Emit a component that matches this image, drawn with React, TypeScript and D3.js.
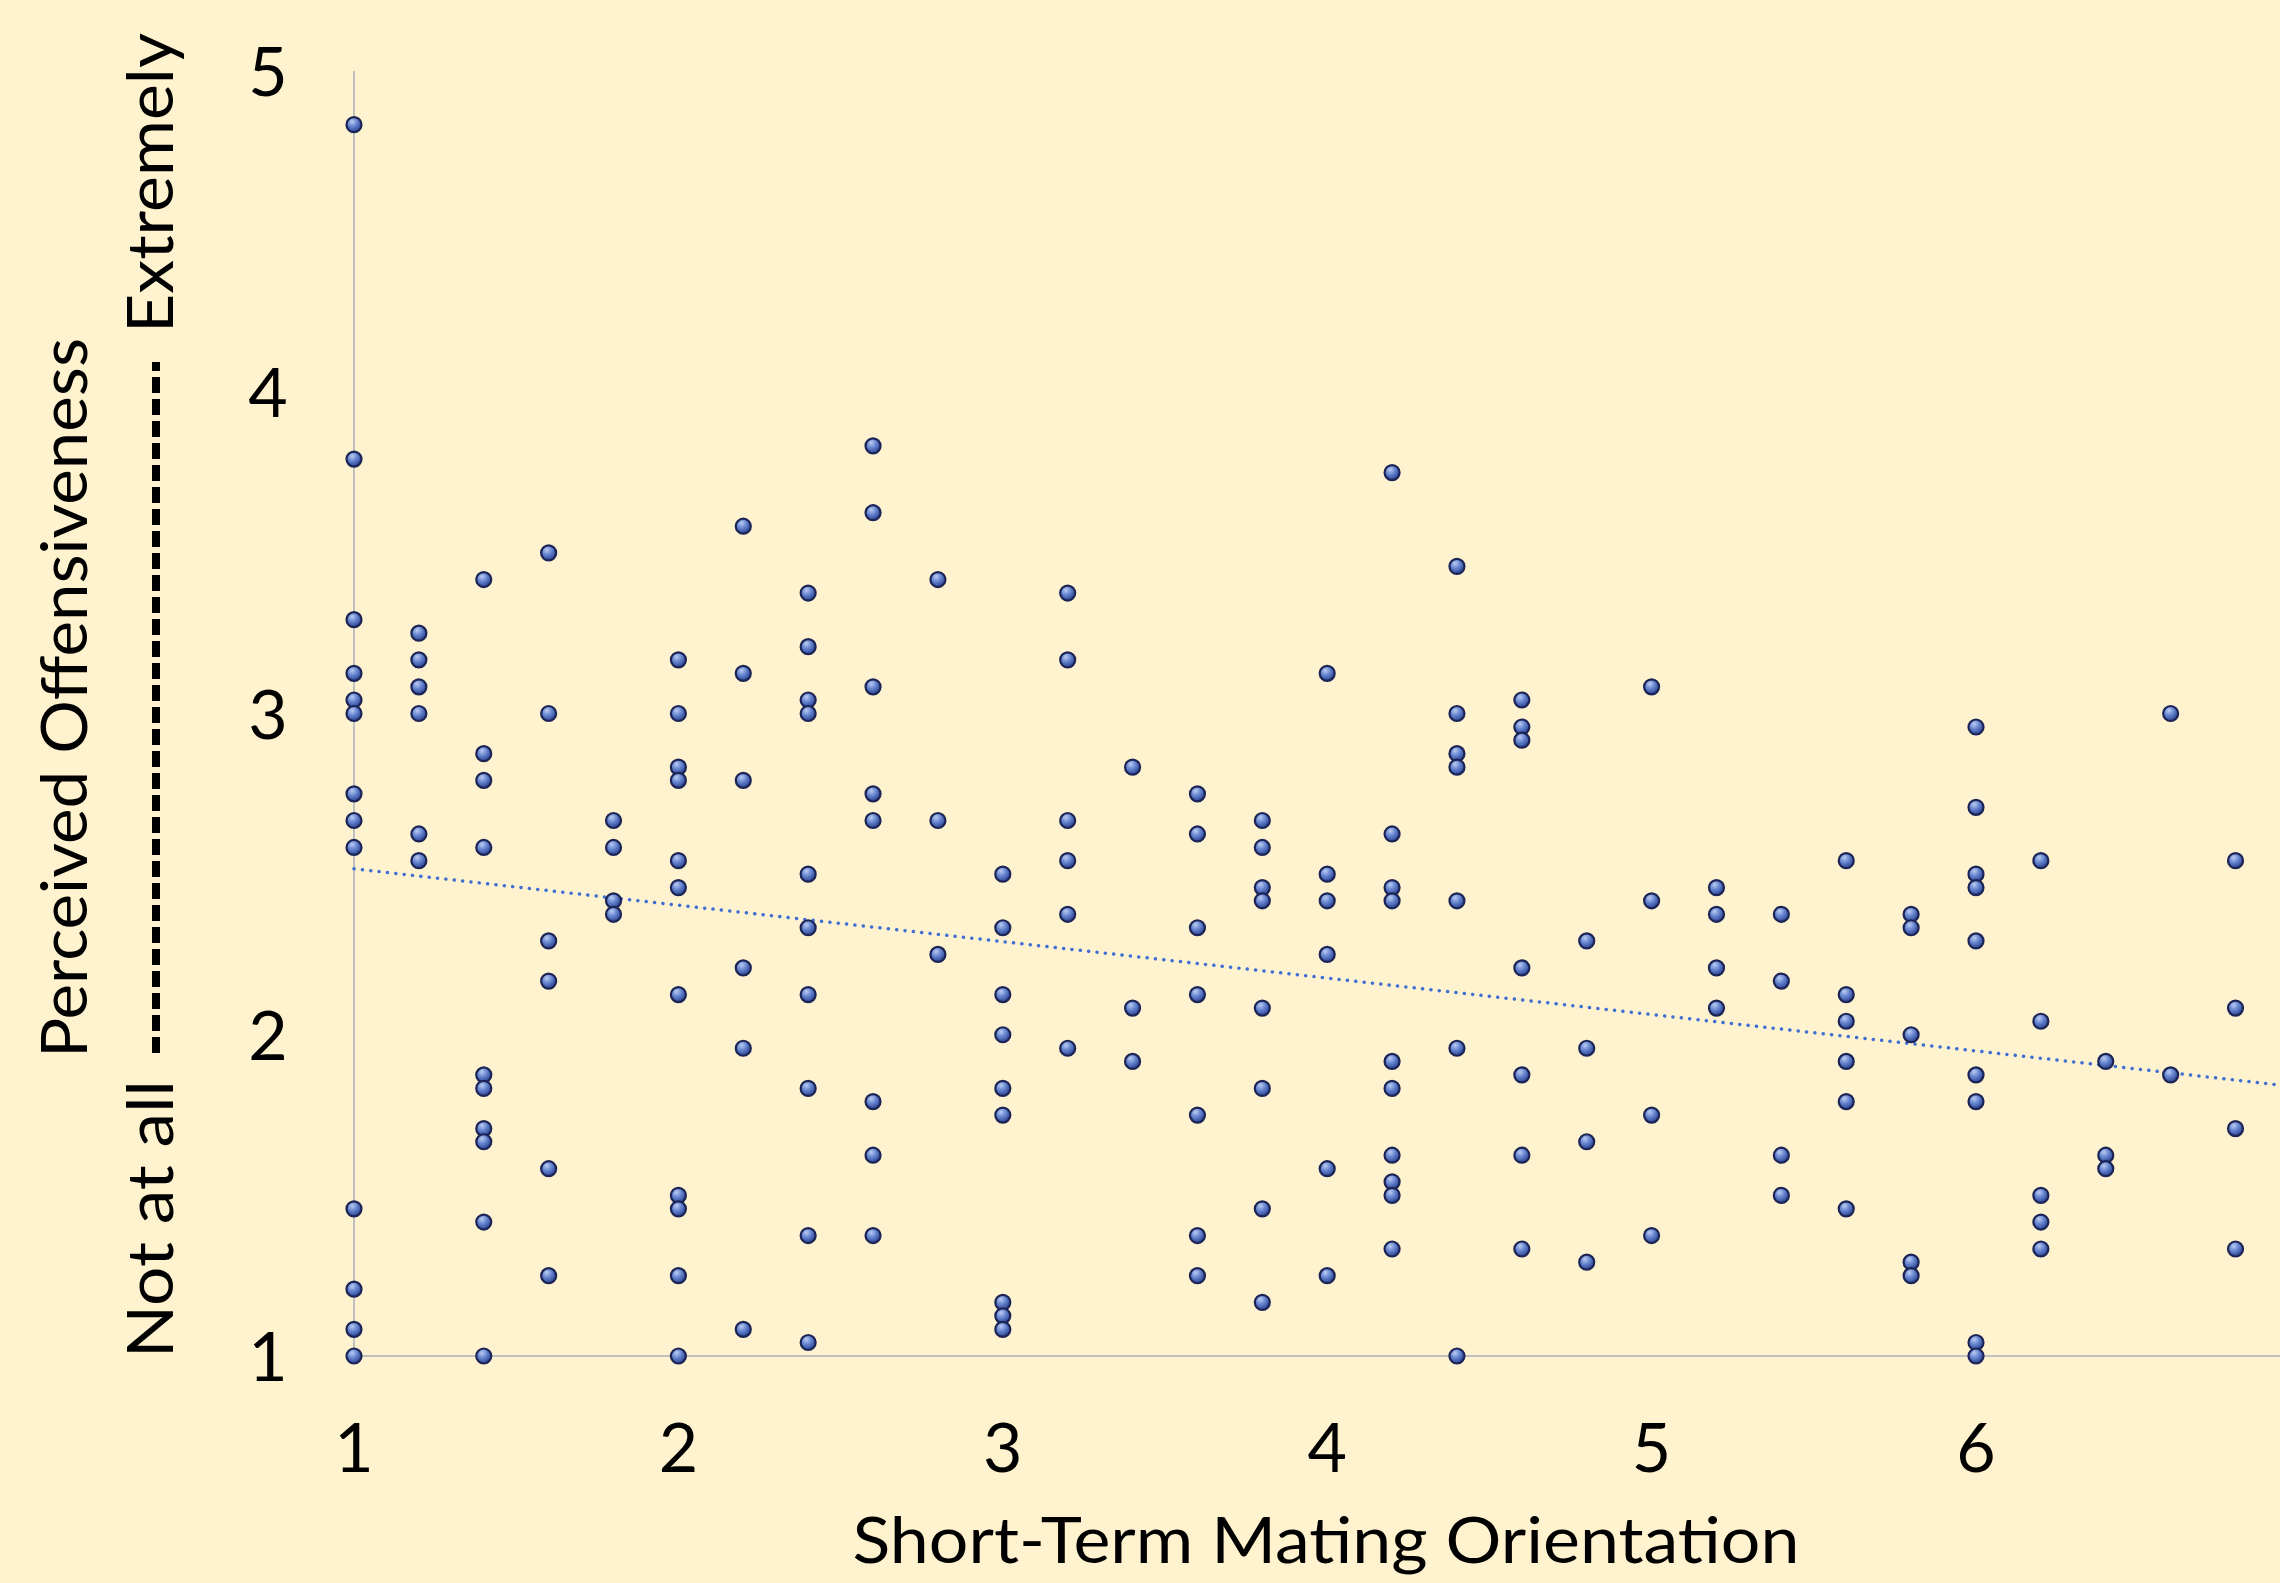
import React from 'react';
import * as d3 from 'd3';

// Short-term mating orientation (x) — each column of responses
const columnX = [1, 1.2, 1.4, 1.6, 1.8, 2, 2.2, 2.4, 2.6, 2.8, 3, 3.2, 3.4, 3.6, 3.8, 4, 4.2, 4.4, 4.6, 4.8, 5, 5.2, 5.4, 5.6, 5.8, 6, 6.2, 6.4, 6.6, 6.8];

// Perceived offensiveness (y) for each column above
const columnY = [
  [4.833, 3.792, 3.292, 3.125, 3.042, 3.0, 2.75, 2.667, 2.583, 1.458, 1.208, 1.083, 1.0],
  [3.25, 3.167, 3.083, 3.0, 2.625, 2.542],
  [3.417, 2.875, 2.792, 2.583, 1.875, 1.833, 1.708, 1.667, 1.417, 1.0],
  [3.5, 3.0, 2.292, 2.167, 1.583, 1.25],
  [2.667, 2.583, 2.417, 2.375],
  [3.167, 3.0, 2.833, 2.792, 2.542, 2.458, 2.125, 1.5, 1.458, 1.25, 1.0],
  [3.583, 3.125, 2.792, 2.208, 1.958, 1.083],
  [3.375, 3.208, 3.042, 3.0, 2.5, 2.333, 2.125, 1.833, 1.375, 1.042],
  [3.833, 3.625, 3.083, 2.75, 2.667, 1.792, 1.625, 1.375],
  [3.417, 2.667, 2.25],
  [2.5, 2.333, 2.125, 2.0, 1.833, 1.75, 1.167, 1.125, 1.083],
  [3.375, 3.167, 2.667, 2.542, 2.375, 1.958],
  [2.833, 2.083, 1.917],
  [2.75, 2.625, 2.333, 2.125, 1.75, 1.375, 1.25],
  [2.667, 2.583, 2.458, 2.417, 2.083, 1.833, 1.458, 1.167],
  [3.125, 2.5, 2.417, 2.25, 1.583, 1.25],
  [3.75, 2.625, 2.458, 2.417, 1.917, 1.833, 1.625, 1.542, 1.5, 1.333],
  [3.458, 3.0, 2.875, 2.833, 2.417, 1.958, 1.0],
  [3.042, 2.958, 2.917, 2.208, 1.875, 1.625, 1.333],
  [2.292, 1.958, 1.667, 1.292],
  [3.083, 2.417, 1.75, 1.375],
  [2.458, 2.375, 2.208, 2.083],
  [2.375, 2.167, 1.625, 1.5],
  [2.542, 2.125, 2.042, 1.917, 1.792, 1.458],
  [2.375, 2.333, 2.0, 1.292, 1.25],
  [2.958, 2.708, 2.5, 2.458, 2.292, 1.875, 1.792, 1.042, 1.0],
  [2.542, 2.042, 1.5, 1.417, 1.333],
  [1.917, 1.625, 1.583],
  [3.0, 1.875],
  [2.542, 2.083, 1.708, 1.333],
];

const xTicks = [1, 2, 3, 4, 5, 6];
const yTicks = [1, 2, 3, 4, 5];

// linear trend line
const trendIntercept = 2.63;
const trendSlope = -0.1134;

const App = () => {
  const width = 2280;
  const height = 1583;
  const font = 'Lato, "Open Sans", sans-serif';

  const x = d3.scaleLinear().domain([1, 7]).range([354, 2300.4]);
  const y = d3.scaleLinear().domain([1, 5]).range([1356, 71]);

  const points = columnX.flatMap((cx, i) => columnY[i].map((v) => ({ x: cx, y: v })));

  const trend = d3
    .line<number>()
    .x((d) => x(d))
    .y((d) => y(trendIntercept + trendSlope * d))([1, 7]);

  return (
    <div style={{ position: 'absolute', left: 0, top: 0 }}>
      <svg width={width} height={height} style={{ display: 'block' }}>
        <defs>
          <radialGradient id="ball" cx="38%" cy="30%" r="75%">
            <stop offset="0%" stopColor="#b9cbf2" />
            <stop offset="45%" stopColor="#6584cf" />
            <stop offset="100%" stopColor="#243b8a" />
          </radialGradient>
        </defs>
        <rect width={width} height={height} fill="#fff2cf" />

        {/* axes */}
        <line x1={x(1)} x2={x(1)} y1={y(5)} y2={y(1)} stroke="#c0c0c0" strokeWidth={2} />
        <line x1={x(1)} x2={x(7)} y1={y(1)} y2={y(1)} stroke="#c0c0c0" strokeWidth={2} />

        {/* tick labels */}
        {xTicks.map((t) => (
          <text key={'x' + t} x={x(t)} y={1472} textAnchor="middle" fontFamily={font} fontSize={68} fill="#000">
            {t}
          </text>
        ))}
        {yTicks.map((t) => (
          <text key={'y' + t} x={268} y={y(t) + 25} textAnchor="middle" fontFamily={font} fontSize={68} fill="#000">
            {t}
          </text>
        ))}

        {/* trend line */}
        <path d={trend || ''} fill="none" stroke="#3f6fd1" strokeWidth={3.5} strokeDasharray="0.1 8.3" strokeLinecap="round" />

        {/* points */}
        {points.map((p, i) => (
          <circle key={i} cx={x(p.x)} cy={y(p.y)} r={7.5} fill="url(#ball)" stroke="#1b2455" strokeWidth={2.2} />
        ))}

        {/* x axis title */}
        <text x={1326} y={1563} textAnchor="middle" fontFamily={font} fontSize={64} fill="#000" textLength={947} lengthAdjust="spacingAndGlyphs">
          Short-Term Mating Orientation
        </text>

        {/* y axis titles */}
        <text transform="translate(87,698) rotate(-90)" textAnchor="middle" fontFamily={font} fontSize={64} fill="#000" textLength={720} lengthAdjust="spacingAndGlyphs">
          Perceived Offensiveness
        </text>
        <text transform="translate(173,1358) rotate(-90)" textAnchor="start" fontFamily={font} fontSize={64} fill="#000" textLength={278} lengthAdjust="spacingAndGlyphs">
          Not at all
        </text>
        <line x1={156} x2={156} y1={1053} y2={362} stroke="#000" strokeWidth={8} strokeDasharray="16 6" />
        <text transform="translate(173,333) rotate(-90)" textAnchor="start" fontFamily={font} fontSize={64} fill="#000" textLength={300} lengthAdjust="spacingAndGlyphs">
          Extremely
        </text>
      </svg>
    </div>
  );
};

export default App;
